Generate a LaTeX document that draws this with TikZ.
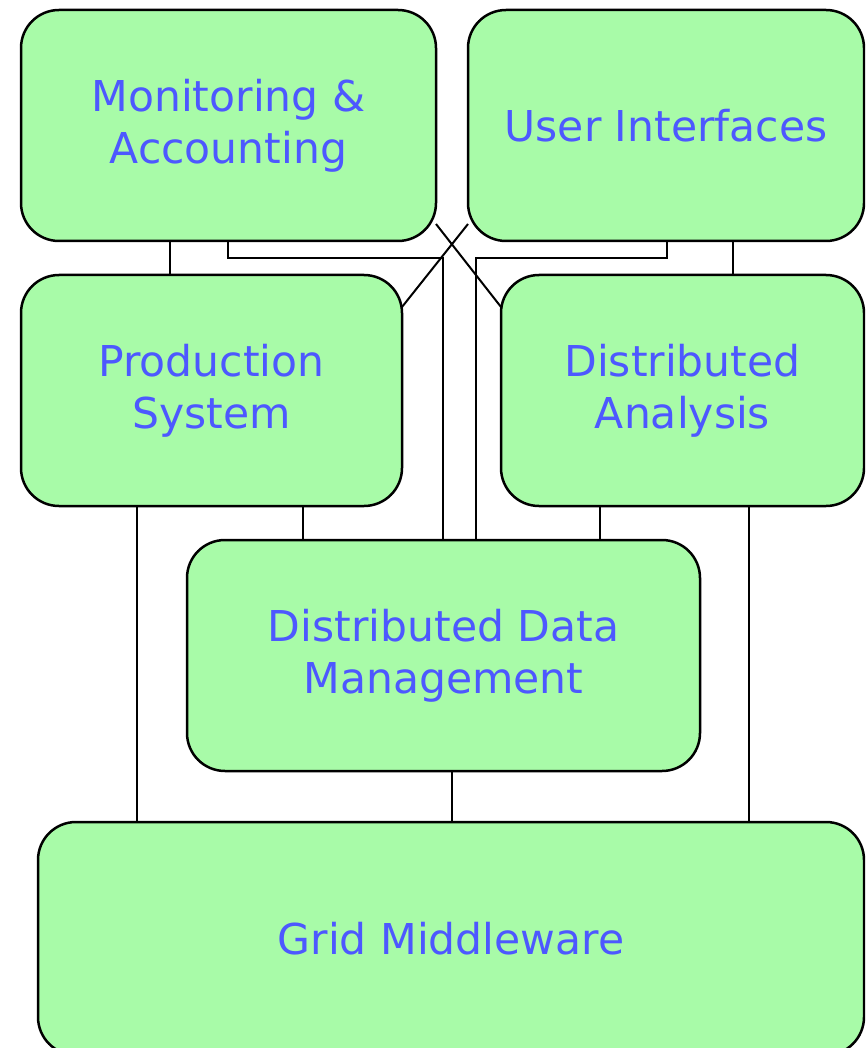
\documentclass[tikz,border=0pt]{standalone}
\usepackage{fontspec}
\setmainfont{DejaVu Sans}
\definecolor{boxgreen}{RGB}{168,251,168}
\definecolor{textblue}{RGB}{77,88,255}
\begin{document}
\begin{tikzpicture}[x=1pt,y=-1pt,
	box/.style={draw=black,line width=2.5pt,fill=boxgreen,rounded corners=38pt,inner sep=0pt,outer sep=0pt,align=center,text=textblue,font=\fontsize{42.5}{52}\selectfont},
	link/.style={line width=2pt}]
		\useasboundingbox (0,0) rectangle (865,1048);
		\clip (0,0) rectangle (865,1048);
		% Top row
		\node[box,minimum width=415pt,minimum height=231pt] (MA) at (228.5,125.5) {Monitoring \&\\Accounting};
		\node[box,minimum width=396pt,minimum height=231pt] (UI) at (666,125.5) {User Interfaces};
		% Middle row
		\node[box,minimum width=381pt,minimum height=231pt] (PS) at (211.5,390.5) {Production\\System};
		\node[box,minimum width=363pt,minimum height=231pt] (DA) at (682.5,390.5) {Distributed\\Analysis};
		% Data management
		\node[box,minimum width=513pt,minimum height=231pt] (DDM) at (443.5,655.5) {Distributed Data\\Management};
		% Middleware
		\node[box,minimum width=826pt,minimum height=233pt] (GM) at (451,938.5) {Grid Middleware};
		% Links from the top row
		\draw[link] (MA.south -| 170,0) -- (PS.north -| 170,0);
		\draw[link] (UI.south -| 733,0) -- (DA.north -| 733,0);
		\draw[link] (MA.south -| 228,0) -- ++(0,17) -| (DDM.north -| 443,0);
		\draw[link] (UI.south -| 667,0) -- ++(0,17) -| (DDM.north -| 476,0);
		\draw[link] ([yshift=17pt]MA.south east) -- ([yshift=-32pt]DA.north west);
		\draw[link] ([yshift=17pt]UI.south west) -- ([yshift=-32pt]PS.north east);
		% Links from the middle row
		\draw[link] (PS.south -| 137,0) -- (GM.north -| 137,0);
		\draw[link] (PS.south -| 303,0) -- (DDM.north -| 303,0);
		\draw[link] (DA.south -| 600,0) -- (DDM.north -| 600,0);
		\draw[link] (DA.south -| 749,0) -- (GM.north -| 749,0);
		% Data management to middleware
		\draw[link] (DDM.south -| 452,0) -- (GM.north -| 452,0);
\end{tikzpicture}
\end{document}
